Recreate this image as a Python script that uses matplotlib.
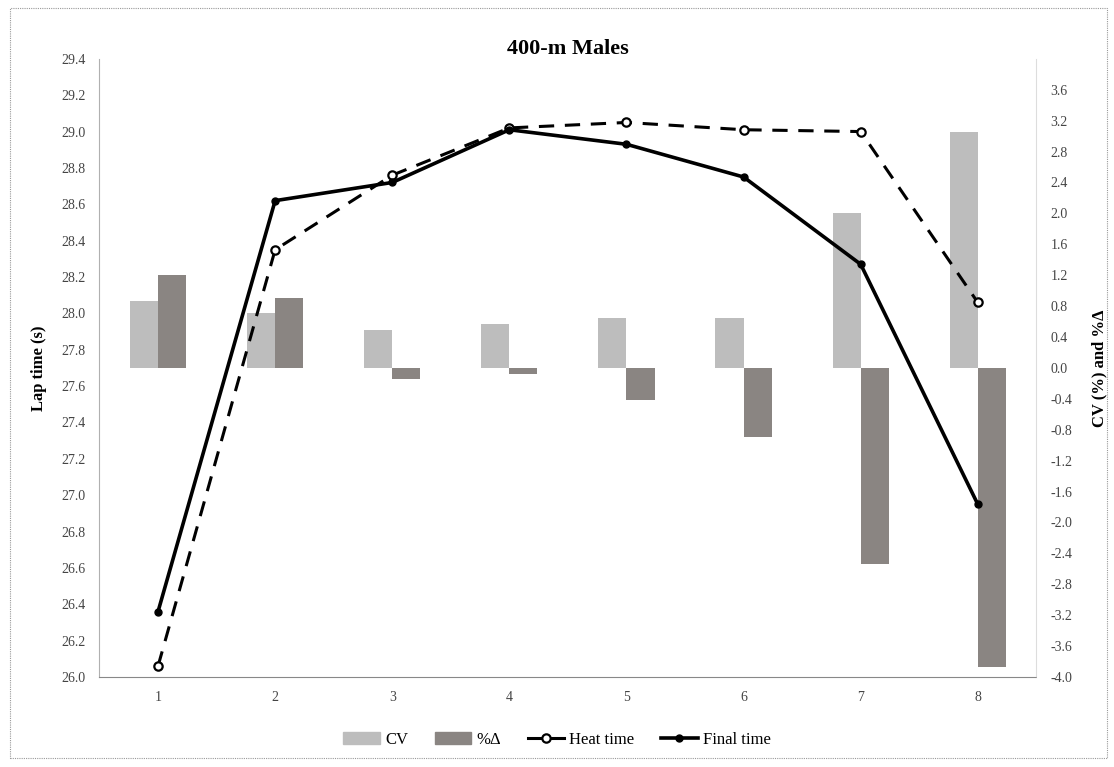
import matplotlib
matplotlib.use("Agg")
import matplotlib.pyplot as plt
from matplotlib.patches import Rectangle, Patch
from matplotlib.lines import Line2D
import numpy as np

plt.rcParams["font.family"] = ["Liberation Serif", "DejaVu Serif"]

laps = [1, 2, 3, 4, 5, 6, 7, 8]
cv = [0.87, 0.71, 0.49, 0.57, 0.65, 0.65, 2.00, 3.05]
pct_delta = [1.20, 0.90, -0.14, -0.08, -0.41, -0.90, -2.54, -3.87]
heat_time = [26.06, 28.35, 28.76, 29.02, 29.05, 29.01, 29.00, 28.06]
final_time = [26.36, 28.62, 28.72, 29.01, 28.93, 28.75, 28.27, 26.95]

CV_COL = "#bdbdbd"
PD_COL = "#8a8582"
SPINE = "#b0b0b0"

fig = plt.figure(figsize=(11.14, 7.67), dpi=100)
ax = fig.add_axes([0.0893, 0.1173, 0.841, 0.806])
ax2 = ax.twinx()

x = np.arange(len(laps))
bw = 0.24

# bars on the right axis
ax2.bar(x - bw / 2, cv, width=bw, color=CV_COL, zorder=1)
ax2.bar(x + bw / 2, pct_delta, width=bw, color=PD_COL, zorder=1)
ax2.set_ylim(-4.0, 4.0)
rt = np.round(np.arange(-4.0, 3.61, 0.4), 1) + 0.0
ax2.set_yticks(rt)
ax2.set_yticklabels([f"{abs(v):.1f}" if abs(v) < 1e-9 else f"{v:.1f}" for v in rt])
ax2.set_ylabel("CV (%) and %Δ", fontsize=12, fontweight="bold", labelpad=14)

# lines on the left axis (drawn above the bars)
ax.set_zorder(ax2.get_zorder() + 1)
ax.patch.set_visible(False)
ax.plot(x, heat_time, color="black", lw=2.2, ls=(0, (5, 3.5)), marker="o",
        ms=6, mfc="white", mec="black", mew=1.6, zorder=3)
ax.plot(x, final_time, color="black", lw=2.6, marker="o", ms=5,
        mfc="black", mec="black", zorder=4)
ax.set_ylim(26.0, 29.4)
lt = np.round(np.arange(26.0, 29.41, 0.2), 1)
ax.set_yticks(lt)
ax.set_yticklabels([f"{v:.1f}" for v in lt])
ax.set_xlim(-0.5, len(laps) - 0.5)
ax.set_xticks(x)
ax.set_xticklabels([str(l) for l in laps])
ax.set_ylabel("Lap time (s)", fontsize=12, fontweight="bold", labelpad=10)
ax.set_title("400-m Males", fontsize=16, fontweight="bold", pad=1)

for a in (ax, ax2):
    a.tick_params(length=0, labelsize=10, colors="#444444", pad=10)
    for s in a.spines.values():
        s.set_visible(False)
ax.spines["left"].set_visible(True)
ax.spines["left"].set_color(SPINE)
ax.spines["left"].set_linestyle((0, (1, 1)))
ax.spines["bottom"].set_visible(True)
ax.spines["bottom"].set_color("#888888")
ax.spines["bottom"].set_linestyle((0, (1, 1)))
ax2.spines["right"].set_visible(True)
ax2.spines["right"].set_color("#dddddd")
ax2.spines["right"].set_linestyle((0, (1, 1)))

handles = [Patch(color=CV_COL, label="CV"),
           Patch(color=PD_COL, label="%Δ"),
           Line2D([], [], color="black", lw=2.2, marker="o", ms=6, mfc="white",
                  mew=1.6, label="Heat time"),
           Line2D([], [], color="black", lw=2.6, marker="o", ms=5,
                  label="Final time")]
fig.legend(handles=handles, loc="center", bbox_to_anchor=(0.5, 0.035), ncol=4,
           frameon=False, fontsize=12, handlelength=2.2, columnspacing=1.6,
           handletextpad=0.3)

# dotted chart-area border
fig.add_artist(Rectangle((0.009, 0.012), 0.985, 0.978, transform=fig.transFigure,
                         fill=False, ec="#999999", lw=0.8, ls=(0, (1, 1))))

fig.savefig("out.png", dpi=100, facecolor="white")
